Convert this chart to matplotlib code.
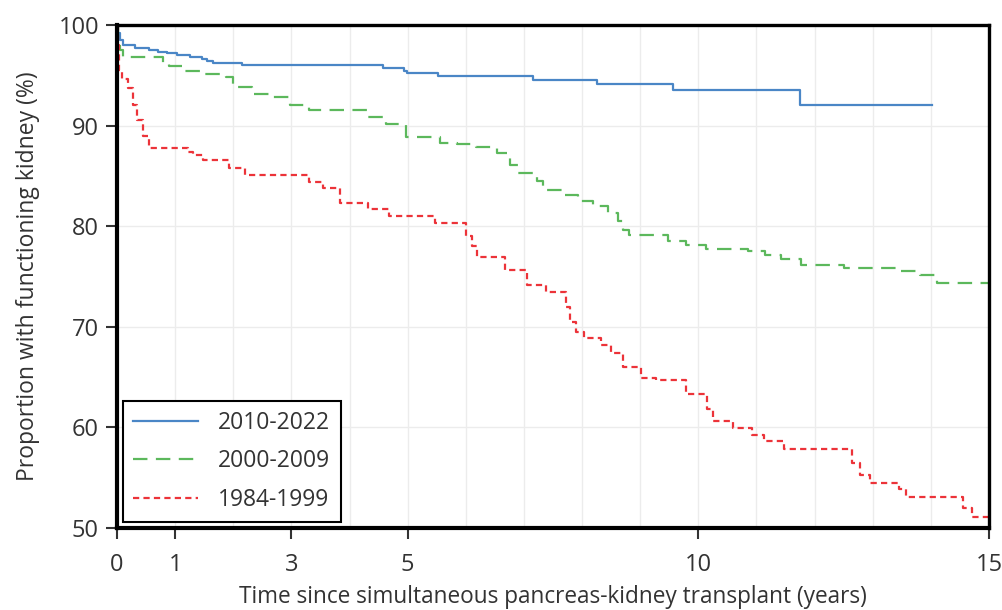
import numpy as np
import matplotlib.pyplot as plt
from matplotlib.ticker import MultipleLocator

plt.rcParams['font.family'] = ['Open Sans', 'DejaVu Sans']

# Kaplan-Meier steps: time (years) and survival (%)
t_2010 = [0, 0.02, 0.05, 0.1, 0.31, 0.55, 0.71, 0.86, 1.03, 1.26, 1.46, 1.55, 1.65,
          2.15, 4.58, 4.93, 4.99, 5.52, 7.16, 8.26, 9.57, 11.75, 14.02]
s_2010 = [100, 99.2, 98.5, 98.0, 97.7, 97.5, 97.35, 97.2, 97.0, 96.8, 96.6, 96.4, 96.2,
          96.0, 95.7, 95.45, 95.2, 94.9, 94.5, 94.1, 93.5, 92.0, 92.0]

t_2000 = [0, 0.02, 0.05, 0.1, 0.79, 0.9, 1.17, 1.5, 1.88, 2.0, 2.32, 2.68, 2.98, 3.3,
          4.3, 4.62, 4.97, 5.55, 5.85, 6.17, 6.54, 6.76, 6.9, 7.22, 7.32, 7.65, 7.93,
          8.19, 8.45, 8.62, 8.7, 8.8, 9.47, 9.78, 10.13, 10.85, 11.15, 11.42, 11.77,
          12.5, 13.45, 13.82, 14.1, 15.0]
s_2000 = [100, 98.5, 97.5, 96.8, 96.2, 95.9, 95.45, 95.1, 94.8, 93.8, 93.1, 92.8, 92.0,
          91.55, 90.9, 90.15, 88.9, 88.3, 88.2, 87.9, 87.3, 86.1, 85.3, 84.5, 83.6,
          83.1, 82.5, 82.0, 81.3, 80.5, 79.6, 79.1, 78.5, 78.1, 77.75, 77.5, 77.1,
          76.75, 76.1, 75.8, 75.5, 75.15, 74.4, 74.4]

t_1984 = [0, 0.01, 0.03, 0.08, 0.18, 0.28, 0.34, 0.45, 0.55, 1.22, 1.3, 1.48, 1.92,
          2.2, 3.3, 3.55, 3.84, 4.32, 4.68, 5.47, 6.0, 6.1, 6.2, 6.68, 7.06, 7.38,
          7.72, 7.8, 7.9, 8.04, 8.33, 8.5, 8.7, 9.02, 9.28, 9.78, 10.15, 10.25, 10.6,
          10.93, 11.13, 11.48, 12.65, 12.78, 12.95, 13.45, 13.58, 14.55, 14.7, 15.0]
s_1984 = [100, 98.0, 95.5, 94.6, 93.7, 92.0, 90.6, 89.0, 87.8, 87.4, 87.1, 86.6, 85.8,
          85.1, 84.4, 83.8, 82.3, 81.7, 81.0, 80.3, 79.0, 78.0, 76.9, 75.6, 74.2, 73.5,
          72.0, 70.5, 69.5, 68.9, 68.2, 67.4, 66.0, 64.9, 64.7, 63.3, 61.8, 60.6, 59.9,
          59.25, 58.6, 57.85, 56.5, 55.3, 54.5, 53.9, 53.1, 52.0, 51.1, 51.1]

x_ticks = [0, 1, 3, 5, 10, 15]
y_ticks = [50, 60, 70, 80, 90, 100]

fig = plt.figure(figsize=(10.03, 6.10), dpi=100)
ax = fig.add_axes([0.1167, 0.1344, 0.8693, 0.8246])

ax.step(t_2010, s_2010, where='post', color='#4a86c6', lw=1.6, label='2010-2022')
ax.step(t_2000, s_2000, where='post', color='#5cb85c', lw=1.6,
        linestyle=(0, (6.5, 3.8)), label='2000-2009')
ax.step(t_1984, s_1984, where='post', color='#ec3339', lw=1.6,
        linestyle=(0, (2.8, 1.9)), label='1984-1999')

ax.set_xlim(0, 15)
ax.set_ylim(50, 100)
ax.set_xticks(x_ticks)
ax.set_yticks(y_ticks)
ax.xaxis.set_minor_locator(MultipleLocator(1))
ax.grid(which='both', color='#ececec', lw=1)
ax.set_axisbelow(True)

ax.tick_params(which='major', length=8, width=1.5, color='#333333',
               labelsize=17, labelcolor='#333333')
ax.tick_params(axis='x', which='major', pad=10)
ax.tick_params(axis='y', which='major', pad=5)
ax.tick_params(which='minor', length=0)

for side in ['left', 'bottom']:
    ax.spines[side].set_linewidth(3)
for side in ['top', 'right']:
    ax.spines[side].set_linewidth(2.4)

ax.set_xlabel('Time since simultaneous pancreas-kidney transplant (years)',
              fontsize=16.3, color='#333333', labelpad=6)
ax.set_ylabel('Proportion with functioning kidney (%)',
              fontsize=16.5, color='#333333', labelpad=13)

leg = ax.legend(loc='lower left', bbox_to_anchor=(0.007, 0.012), borderaxespad=0,
                fontsize=16.5, fancybox=False, edgecolor='black', framealpha=1,
                handlelength=2.8, handletextpad=0.9, labelspacing=0.62,
                borderpad=0.45)
leg.get_frame().set_linewidth(1.5)
for txt in leg.get_texts():
    txt.set_color('#333333')

fig.savefig('out.png', dpi=100)
